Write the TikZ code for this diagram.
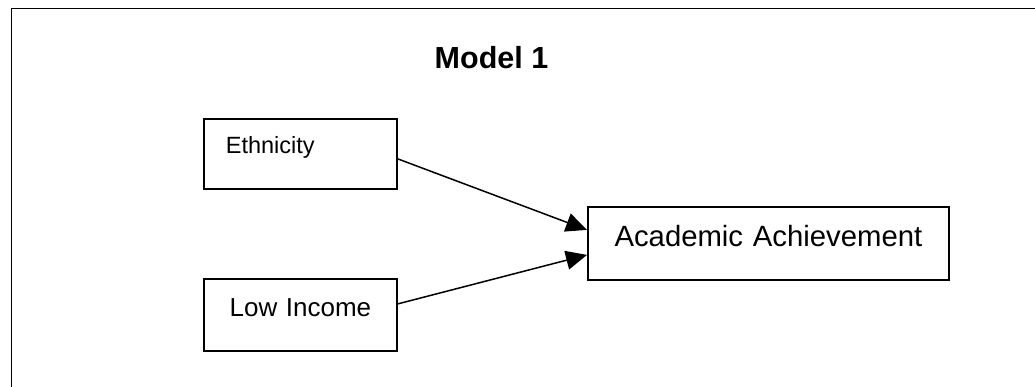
\documentclass[tikz,border=0pt]{standalone}
\usepackage{fontspec}
\setmainfont{Liberation Sans}
\usetikzlibrary{arrows.meta}

\tikzset{
    varbox/.style={draw, line width=1.8pt, anchor=north west, inner ysep=0pt},
    path arrow/.style={-{Triangle[length=21pt,width=19pt]}, line width=1.5pt}
}

\begin{document}
\begin{tikzpicture}[x=1pt, y=-1pt]
            \useasboundingbox (0,0) rectangle (1035,387);
            \draw[line width=1.8pt] (11.5,387) |- (1035,8.5);

            \node[anchor=base, font=\bfseries\fontsize{30.5}{30.5}\selectfont] (title) at (491.5,69) {Model 1};

            \node[varbox, text width=149pt, align=left, inner xsep=22pt, text height=35pt, text depth=35pt, font=\fontsize{23.5}{23.5}\selectfont] (eth) at (203,118) {Ethnicity};
            \node[varbox, text width=173pt, align=center, inner xsep=10pt, text height=38pt, text depth=34pt, font=\fontsize{26}{26}\selectfont] (low) at (203,278) {Low Income};

            \node[varbox, text width=321pt, align=center, inner xsep=20pt, text height=40pt, text depth=33pt, font=\fontsize{29.3}{29.3}\selectfont] (ach) at (587,206) {Academic Achievement};

            \draw[path arrow] ([yshift=-5pt]eth.east) -- ([yshift=13.5pt]ach.west);
            \draw[path arrow] ([yshift=11pt]low.east) -- ([yshift=-11.5pt]ach.west);
        \end{tikzpicture}
\end{document}
